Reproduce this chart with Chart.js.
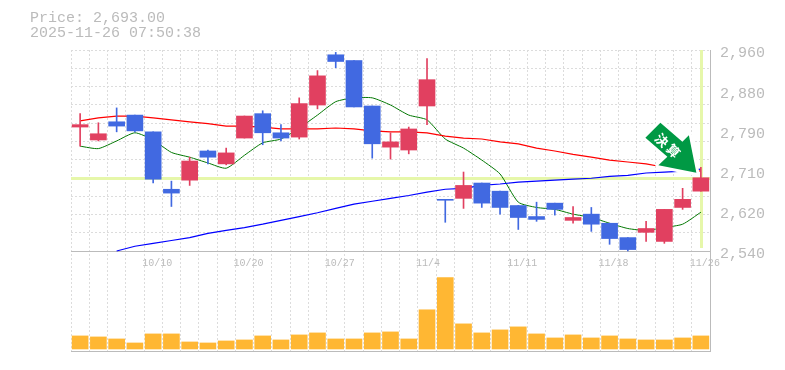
<!DOCTYPE html>
<html>
<head>
<meta charset="utf-8">
<script src="https://cdn.jsdelivr.net/npm/chart.js@4"></script>
<style>
  body { margin: 0; background: #fff; }
  #wrap { position: relative; width: 785px; height: 370px; }
  #info { position: absolute; left: 30px; top: 11px; font: 15px/15px "Liberation Mono", monospace; color: #bbb; white-space: pre; }
</style>
</head>
<body>
<div id="wrap">
  <div id="info">Price: 2,693.00
2025-11-26 07:50:38</div>
  <canvas id="chart" width="785" height="370"></canvas>
</div>
<script>
const dates = ['10/6','10/7','10/8','10/9','10/10','10/14','10/15','10/16','10/17','10/20','10/21','10/22','10/23','10/24','10/27','10/28','10/29','10/30','10/31','11/4','11/5','11/6','11/7','11/10','11/11','11/12','11/13','11/14','11/17','11/18','11/19','11/20','11/21','11/25','11/26'];
const shownDates = ['10/10','10/20','10/27','11/4','11/11','11/18','11/26'];

const opens  = [2799,2772,2810,2824,2789,2669,2688,2749,2722,2776,2827,2787,2778,2845,2950,2938,2843,2757,2751,2843,2648,2650,2682,2665,2635,2612,2640,2604,2617,2598,2568,2579,2560,2631,2665];
const closes = [2804,2785,2801,2791,2690,2661,2728,2736,2745,2822,2787,2776,2848,2906,2936,2841,2764,2768,2795,2898,2646,2677,2640,2631,2610,2606,2627,2610,2596,2566,2543,2587,2627,2648,2693];
const highs  = [2827,2808,2839,2824,2789,2686,2736,2751,2755,2822,2833,2804,2860,2917,2955,2938,2843,2787,2799,2942,2648,2705,2682,2665,2635,2642,2640,2633,2631,2598,2568,2602,2627,2671,2715];
const lows   = [2759,2770,2789,2789,2682,2633,2677,2722,2720,2776,2762,2770,2774,2837,2923,2841,2734,2732,2743,2804,2600,2629,2631,2617,2585,2602,2615,2598,2581,2554,2540,2560,2556,2627,2665];

const ma5  = [2759,2754,2770,2787,2772,2746,2736,2724,2713,2740,2766,2774,2797,2824,2852,2860,2860,2845,2824,2814,2774,2755,2730,2701,2642,2631,2627,2617,2610,2598,2587,2583,2589,2596,2621];
const ma25 = [2812,2818,2822,2822,2818,2814,2810,2806,2801,2801,2799,2795,2795,2795,2797,2795,2791,2789,2789,2787,2780,2776,2774,2768,2764,2755,2749,2742,2736,2730,2726,2722,2715,2711,2707];
const ma75 = [null,null,2540,2550,2556,2562,2568,2577,2583,2589,2596,2604,2612,2620,2629,2638,2644,2650,2656,2663,2669,2671,2677,2680,2684,2686,2688,2690,2692,2696,2698,2703,2705,2707,2711];

const volumes = [13,12,10,6,15,15,7,6,8,9,13,9,14,16,10,10,16,17,10,39,71,25,16,19,22,15,11,14,11,13,10,9,9,11,13];

const priceTicks = ['2,540','2,620','2,710','2,790','2,880','2,960'];
const lastPrice = 2693;

const UP = '#e14060', DOWN = '#4169e1';
const candleColors = opens.map((o, i) => closes[i] >= o ? UP : DOWN);

// panel is 50.5 -> 350, price part ends at 250.5, 2.1 yen per pixel
const PX_BELOW = 99.5;

const currentPrice = {
  id: 'currentPrice',
  beforeDatasetsDraw(chart) {
    const { ctx, chartArea, scales } = chart;
    const py = Math.round(scales.y.getPixelForValue(lastPrice));
    const px = Math.round(scales.x.getPixelForValue(dates.length - 1));
    ctx.save();
    ctx.fillStyle = '#e6f7aa';
    ctx.fillRect(chartArea.left, py - 1, chartArea.width, 3);
    ctx.fillRect(px - 1, chartArea.top, 3, 198);
    ctx.restore();
  }
};

const arrowMark = {
  id: 'arrowMark',
  afterDatasetsDraw(chart) {
    const { ctx, scales } = chart;
    const tx = scales.x.getPixelForValue(dates.length - 1) - 4.5;
    const ty = scales.y.getPixelForValue(lastPrice) - 5;
    ctx.save();
    ctx.translate(tx, ty);
    ctx.beginPath();
    [[-36,-50],[-14,-31],[-7.5,-37.5],[0,0],[-38,-7.5],[-29,-16],[-51,-35]].forEach((p, i) => {
      if (i == 0) ctx.moveTo(p[0], p[1]); else ctx.lineTo(p[0], p[1]);
    });
    ctx.closePath();
    // the icon has a white edge that hides the average lines
    ctx.strokeStyle = '#fff';
    ctx.lineWidth = 6;
    ctx.lineJoin = 'round';
    ctx.stroke();
    ctx.fillStyle = '#009944';
    ctx.fill();
    ctx.fillStyle = '#fff';
    ctx.font = 'bold 13px "Noto Sans CJK JP"';
    ctx.textAlign = 'center';
    ctx.textBaseline = 'middle';
    [['決', -34.5, -32.5], ['算', -23, -22]].forEach(g => {
      ctx.save();
      ctx.translate(g[1], g[2]);
      ctx.rotate(Math.PI / 4);
      ctx.fillText(g[0], 0, 0);
      ctx.restore();
    });
    ctx.restore();
  }
};

new Chart(document.getElementById('chart'), {
  type: 'bar',
  data: {
    labels: dates,
    datasets: [
      { type: 'line', data: ma75, yAxisID: 'y', borderColor: '#0000ff', borderWidth: 1.2, pointRadius: 0, order: 5 },
      { type: 'line', data: ma25, yAxisID: 'y', borderColor: '#ff0000', borderWidth: 1.2, pointRadius: 0, order: 5 },
      { type: 'line', data: ma5, yAxisID: 'y', borderColor: '#007700', borderWidth: 1, pointRadius: 0, tension: 0.2, order: 5 },
      { data: lows.map((l, i) => [l, highs[i]]), yAxisID: 'y', backgroundColor: candleColors, barThickness: 1, grouped: false, order: 2 },
      { data: opens.map((o, i) => [o, closes[i]]), yAxisID: 'y', backgroundColor: candleColors, barThickness: 16, grouped: false, borderSkipped: false, order: 1 },
      { data: volumes, yAxisID: 'yVol', backgroundColor: '#ffb733', barThickness: 16, grouped: false, order: 1 }
    ]
  },
  options: {
    responsive: false,
    animation: false,
    events: [],
    layout: { padding: { top: 50, left: 71, bottom: 11, right: 0 } },
    plugins: { legend: { display: false }, tooltip: { enabled: false } },
    scales: {
      x: {
        position: { y: 2540 },
        offset: true,
        grid: { offset: true, color: '#dcdcdc', drawTicks: false },
        border: { display: true, color: '#bbb', dash: [2, 2] },
        ticks: {
          autoSkip: false,
          maxRotation: 0,
          align: 'start',
          labelOffset: -11,
          padding: 6,
          color: '#bbb',
          font: { family: '"Liberation Mono"', size: 10 },
          callback(v) { return shownDates.includes(dates[v]) ? dates[v] : ''; }
        }
      },
      xBottom: {
        position: 'bottom',
        grid: { display: false },
        ticks: { display: false },
        border: { display: true, color: '#bbb' }
      },
      y: {
        display: false,
        min: 2540 - PX_BELOW * 2.1,
        max: 2960
      },
      yVol: {
        display: false,
        min: -2,
        max: 297.5
      },
      yGrid: {
        position: 'right',
        min: -PX_BELOW / (200 / 11),
        max: 11,
        weight: 2,
        afterBuildTicks(axis) { axis.ticks = Array.from({ length: 12 }, (_, i) => ({ value: i })); },
        afterFit(axis) { axis.width = 0; },
        grid: { color: '#dcdcdc', drawTicks: false },
        border: { display: false, dash: [2, 2] },
        ticks: { display: false }
      },
      yLabels: {
        position: 'right',
        // tick i sits at 254 - 40i, labels are a bit under the grid values
        min: -2.4,
        max: 5.0875,
        weight: 1,
        afterBuildTicks(axis) { axis.ticks = priceTicks.map((_, i) => ({ value: i })); },
        afterFit(axis) { axis.width = 75; },
        grid: { display: false, drawTicks: false },
        border: { display: true, color: '#bbb' },
        ticks: {
          padding: 10,
          color: '#bbb',
          font: { family: '"Liberation Mono"', size: 15 },
          callback(v) { return priceTicks[v]; }
        }
      }
    }
  },
  plugins: [currentPrice, arrowMark]
});
</script>
</body>
</html>
